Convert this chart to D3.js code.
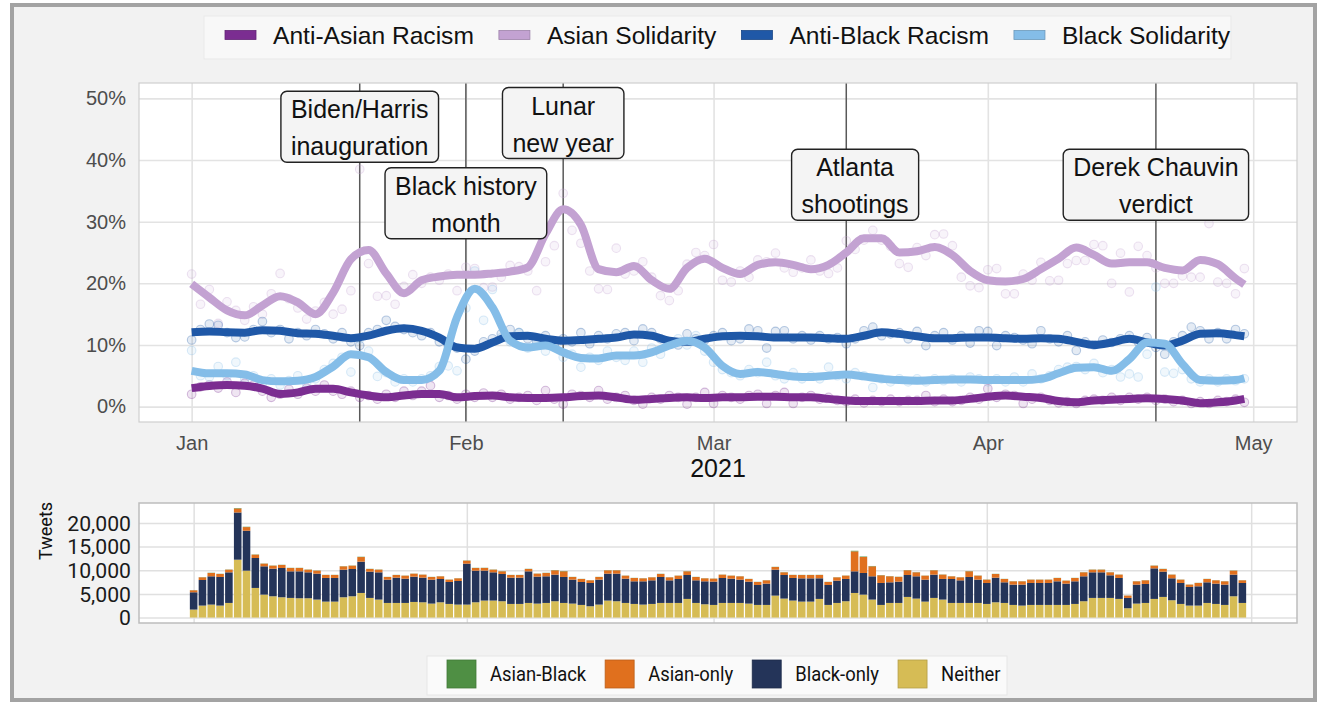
<!DOCTYPE html>
<html>
<head>
<meta charset="utf-8">
<script src="https://cdn.jsdelivr.net/npm/d3@7"></script>
<style>
  body { margin: 0; background: #fff; }
  svg { display: block; }
</style>
</head>
<body>
<svg id="chart" width="1325" height="711"></svg>
<script>
// ---- data ----
var seriesNames = ["Anti-Asian Racism", "Asian Solidarity", "Anti-Black Racism", "Black Solidarity"];
var seriesColors = ["#7b2d91", "#c3a2d2", "#1f58a7", "#84bde8"];

// smoothed share (%) every 2nd day from Jan 1, last value = Apr 30
var antiAsianLine = [3.0,3.35,3.5,3.4,2.9,2.05,2.3,2.9,2.9,2.3,1.8,1.5,1.8,2.05,2.05,1.5,1.7,1.8,1.5,1.4,
  1.4,1.5,1.7,1.8,1.5,1.1,1.25,1.4,1.5,1.4,1.5,1.5,1.6,1.6,1.5,1.5,1.25,1.0,0.9,0.9,
  0.9,0.9,1.0,1.0,1.25,1.6,1.8,1.6,1.4,0.9,0.7,1.0,1.1,1.25,1.35,1.25,1.0,0.55,0.7,1.0,1.25];
var asianSolLine = [19.9,17.7,15.6,14.8,16.4,17.9,16.9,15.0,18.5,23.9,25.4,21.6,18.4,20.5,21.1,21.4,21.4,21.6,21.9,22.6,
  28.0,32.0,29.5,22.3,21.8,22.8,20.5,19.1,22.5,24.0,22.5,21.5,23.0,23.4,23.0,22.3,23.0,25.0,27.3,27.3,
  25.0,25.2,25.9,24.6,22.0,20.5,20.3,20.7,22.3,24.0,25.8,24.6,23.2,23.4,23.4,22.5,22.1,23.8,23.1,20.8,19.8];
var antiBlackLine = [12.05,12.2,12.05,12.0,12.4,12.3,11.9,11.8,11.5,11.1,11.5,12.3,12.7,12.3,11.2,9.6,9.4,10.4,11.4,11.5,
  11.0,10.7,10.8,11.0,11.2,11.7,11.5,10.7,10.5,11.0,11.4,11.5,11.4,11.2,11.2,11.2,11.1,11.0,11.5,12.05,
  11.8,11.4,11.1,11.1,11.2,11.2,11.1,11.0,11.1,11.0,10.5,10.0,10.4,11.0,10.4,9.9,10.7,11.8,11.9,11.6,11.4];
var blackSolLine = [5.8,5.4,5.4,5.2,4.3,4.1,4.2,4.8,6.5,8.5,8.0,5.6,4.3,4.3,5.8,14.5,19.1,16.1,10.7,9.6,
  9.9,8.8,7.9,7.8,8.3,8.3,8.8,9.9,10.7,9.6,6.6,5.3,5.6,5.3,4.9,4.8,5.0,5.2,4.9,4.5,
  4.3,4.2,4.3,4.4,4.4,4.3,4.3,4.3,4.5,5.4,6.3,6.4,5.8,7.7,10.4,10.2,6.9,4.3,4.2,4.3,4.6];

// daily share (%) Jan 1 - Apr 30
var antiAsianPts = [2.0,3.2,3.5,3.0,4.0,2.3,3.8,3.5,2.5,1.5,2.0,2.8,2.0,3.0,2.5,3.5,2.5,2.0,2.5,1.5,
  1.8,1.2,2.0,1.5,2.5,1.8,2.5,3.4,1.5,1.8,1.2,2.0,1.5,2.2,1.5,2.0,1.2,1.5,1.8,1.0,
  2.6,1.2,0.4,2.0,1.8,1.5,2.6,1.2,1.5,1.8,1.0,0.4,1.5,1.2,1.8,1.5,0.4,1.5,2.3,0.5,
  1.8,1.5,1.2,1.8,2.0,0.5,1.8,2.3,0.5,1.5,1.8,1.2,1.5,1.0,0.8,1.2,0.6,1.0,0.8,1.2,
  0.8,1.0,1.0,1.8,0.8,1.2,0.8,1.0,1.5,1.2,2.9,1.5,2.0,1.8,0.5,1.2,1.5,1.0,0.6,0.8,
  0.5,1.0,1.2,1.0,1.5,1.0,1.5,1.2,1.5,1.0,1.2,0.8,1.0,0.5,0.8,0.5,1.0,0.8,1.2,0.7];
var asianSolPts = [21.5,16.6,19.0,13.5,17.0,15.6,14.0,16.2,15.0,18.3,21.6,17.5,16.0,14.2,15.5,16.9,15.0,15.8,18.8,38.5,
  23.2,17.9,18.0,16.6,19.5,21.4,20.0,21.0,20.5,21.5,18.8,22.6,22.4,19.3,19.4,21.0,22.9,22.7,22.0,18.8,
  23.5,26.1,34.6,28.6,26.5,22.0,19.1,19.0,25.7,21.5,22.0,23.5,21.0,18.0,17.2,18.8,23.1,25.0,24.5,26.3,
  20.5,20.2,22.0,21.0,23.8,23.5,24.9,22.5,21.8,22.5,23.8,22.0,21.6,22.5,26.9,25.5,27.0,28.6,27.0,26.0,
  23.2,22.6,25.8,24.5,27.9,28.0,26.1,21.0,19.6,19.3,22.2,22.4,18.3,18.3,21.5,20.5,23.4,20.4,20.5,23.2,
  23.7,23.7,26.3,26.1,20.0,24.9,18.6,26.0,24.5,22.5,20.0,20.0,21.2,21.0,21.0,29.7,20.2,20.0,18.3,22.4];
var antiBlackPts = [10.8,12.5,13.4,13.2,12.0,11.2,11.3,12.5,13.8,12.0,12.5,11.0,12.0,11.5,12.5,11.8,11.0,12.0,10.5,9.9,
  12.0,12.5,14.0,13.0,12.5,12.0,11.5,12.0,10.5,10.0,9.5,7.7,9.0,10.5,11.0,11.8,12.5,12.0,11.0,10.5,
  11.5,10.0,11.0,10.5,12.0,10.2,11.5,11.0,11.8,12.0,10.7,12.6,12.0,11.0,10.5,10.0,11.8,11.0,10.8,11.5,
  12.0,10.7,11.0,12.6,12.3,9.5,12.2,12.3,11.0,11.5,10.8,11.5,11.0,11.2,10.2,11.0,12.3,12.9,11.5,11.8,
  12.0,11.0,12.2,9.9,11.5,12.0,10.8,11.5,10.3,12.3,12.2,9.9,11.5,11.2,10.8,10.2,12.3,11.0,10.5,11.5,
  9.1,10.5,10.0,10.8,10.4,11.0,11.5,10.5,11.2,9.6,8.5,10.5,11.5,12.9,12.3,11.0,12.0,11.0,12.5,11.8];
var blackSolPts = [9.1,5.0,4.8,6.5,5.0,7.2,4.5,5.0,3.8,4.5,3.5,4.2,5.0,3.8,4.5,6.0,7.0,8.0,5.6,11.0,
  9.0,4.9,5.5,4.0,4.5,4.0,4.5,5.0,6.5,6.6,5.8,16.0,22.0,14.0,19.0,11.2,10.5,12.0,9.5,10.0,
  9.0,10.5,8.0,8.5,6.4,8.0,7.5,9.0,8.0,7.5,9.0,7.2,9.5,8.5,10.5,11.0,10.0,11.5,9.0,7.2,
  6.0,5.5,5.0,6.0,5.5,7.2,5.0,4.5,5.5,4.5,5.0,4.5,6.4,5.0,4.5,5.5,5.0,3.1,4.5,4.0,
  4.5,4.0,4.5,4.0,4.5,4.2,4.5,4.0,4.8,4.5,4.0,4.5,4.0,4.8,4.0,5.3,4.5,5.0,6.0,6.4,
  6.5,6.0,7.0,5.5,6.0,4.8,5.3,4.8,8.5,19.4,5.6,5.4,6.0,4.5,4.0,4.5,4.0,4.5,4.2,4.5];

// events
var eventNames = [["Biden/Harris", "inauguration"], ["Black history", "month"], ["Lunar", "new year"],
                  ["Atlanta", "shootings"], ["Derek Chauvin", "verdict"]];
var eventDays = [19, 31, 42, 74, 109];
var eventLabelDays = [19, 31, 42, 75, 109];
var eventLabelY = [45.4, 33.0, 46.0, 36.0, 36.0];

// daily tweet counts by type
var barKeys = ["Neither", "Black-only", "Asian-only", "Asian-Black"];
var barColors = ["#d6bc55", "#243459", "#e0701e", "#4f8f44"];
var legendOrder = ["Asian-Black", "Asian-only", "Black-only", "Neither"];
var neither = [1690,2530,2740,2530,3090,12230,9910,6260,4850,4500,
  4290,4150,4080,4080,3800,3370,3370,4290,4500,5200,
  4150,3800,3090,3090,3090,3300,3230,2950,3230,2880,
  2740,2740,3230,3590,3590,3450,2880,2880,3090,2950,
  3090,3450,3090,2950,2670,2390,2740,3590,3450,3090,
  2880,2740,2880,3090,3090,3090,3940,3090,2810,2670,
  3090,3090,3090,2950,2670,2670,4640,4010,3590,3370,
  3370,3940,2670,3090,3450,5200,4850,3800,2670,3090,
  3090,4360,4010,3370,4150,3800,3090,3090,3090,3090,
  2880,3230,3090,2670,2530,2670,2670,2670,2670,2670,
  2880,3450,4150,4150,4150,3940,1970,2950,3090,3940,
  4360,3660,2880,2530,2530,3090,2880,2670,4500,3090];
var blackOnly = [3650,5410,5980,6050,6470,9980,8440,6330,5980,5830,
  6190,5620,5690,5480,5480,5000,5000,5830,5760,6610,
  5550,5760,4920,5340,5130,5340,5200,5060,4920,4640,
  4990,8650,6680,6330,5970,5760,5550,5550,6680,5700,
  5630,5620,5490,5060,4850,4920,5270,5690,5830,5130,
  4780,4920,4990,5490,4780,5060,5060,4780,4850,4920,
  5270,5130,4920,4640,4220,4500,5480,4990,4780,4920,
  4920,4360,4220,4710,4710,4570,4570,4920,4640,4360,
  4500,4640,4710,4640,4920,4360,5060,4780,5490,4920,
  4430,5200,4360,4290,4430,4640,4640,4640,4990,4500,
  4780,5270,5410,5410,4780,4430,2180,4010,4010,6460,
  5340,4640,4430,3940,4080,4360,4290,4290,4570,4220];
var asianOnly = [420,560,700,630,560,840,770,700,560,630,
  630,700,700,560,630,630,630,700,700,980,
  560,560,560,560,630,630,630,560,560,490,
  560,630,560,560,560,560,560,560,490,630,
  700,910,1200,560,630,560,560,700,700,630,
  700,630,630,630,630,700,770,700,630,630,
  700,630,700,560,630,700,560,560,630,700,
  700,700,630,700,700,4220,3380,2110,1620,1270,
  1000,990,840,840,910,910,560,630,1200,840,
  700,770,700,700,700,700,700,700,700,630,
  700,840,560,560,630,700,490,700,770,560,
  560,770,700,490,700,700,700,700,840,560];
var asianBlack = [30,40,50,40,40,90,70,50,40,40,
  40,40,40,40,40,30,30,40,40,60,
  40,40,30,30,30,30,30,30,30,30,
  30,50,40,40,40,40,30,30,40,30,
  40,50,60,30,30,30,30,40,40,30,
  30,30,30,40,30,30,40,30,30,30,
  30,30,30,30,30,30,40,40,30,30,
  30,30,30,30,30,120,100,70,50,40,
  40,40,40,30,40,40,30,30,50,40,
  30,40,30,30,30,30,30,30,30,30,
  30,40,40,40,30,30,20,30,30,40,
  40,30,30,30,30,30,30,30,40,30];

// ---- helpers ----
var DAY = 86400000, START = Date.UTC(2021, 0, 1);
function day(d) { return new Date(START + d * DAY); }
var lineDays = d3.range(0, 120, 2).concat([119]);
var lineSeries = [antiAsianLine, asianSolLine, antiBlackLine, blackSolLine];
var ptSeries = [antiAsianPts, asianSolPts, antiBlackPts, blackSolPts];

var svg = d3.select("#chart");
var SANS = "'Liberation Sans', Arial, sans-serif";
var COND = "Roboto, 'Liberation Sans', sans-serif";

function condense(sel, f) {
  sel.each(function() {
    var L = this.getComputedTextLength();
    d3.select(this).attr("textLength", L * f).attr("lengthAdjust", "spacingAndGlyphs");
  });
}

// outer frame
svg.append("rect").attr("x", 12).attr("y", 5).attr("width", 1303).attr("height", 695)
  .attr("fill", "#f2f2f2").attr("stroke", "#a3a3a3").attr("stroke-width", 4);

// ---- top legend ----
var legTop = svg.append("g");
legTop.append("rect").attr("x", 204).attr("y", 16).attr("width", 1027).attr("height", 43)
  .attr("fill", "#f8f8f8").attr("stroke", "#e9e9e9");
var lx = 225;
seriesNames.forEach(function(name, i) {
  legTop.append("rect").attr("x", lx).attr("y", 30.5).attr("width", 31).attr("height", 9)
    .attr("fill", seriesColors[i]).attr("stroke", d3.color(seriesColors[i]).darker(0.6)).attr("stroke-width", 0.8);
  var t = legTop.append("text").attr("x", lx + 48).attr("y", 35).attr("dy", "0.36em")
    .attr("font-family", SANS).attr("font-size", 24.6).attr("fill", "#111").text(name);
  lx += 48 + t.node().getComputedTextLength() + 25;
});

// ---- top panel ----
var T = { l: 139, r: 1297, t: 83, b: 422 };
var xTop = d3.scaleUtc().domain([day(-5.95), day(124.95)]).range([T.l, T.r]);
var yTop = d3.scaleLinear().domain([-2.5, 52.5]).range([T.b, T.t]);
var months = d3.utcMonth.range(day(0), day(121));

var upper = svg.append("g");
upper.append("rect").attr("x", T.l).attr("y", T.t).attr("width", T.r - T.l).attr("height", T.b - T.t)
  .attr("fill", "#fff");

upper.append("g").attr("transform", "translate(" + T.l + ",0)")
  .call(d3.axisLeft(yTop).tickValues([0, 10, 20, 30, 40, 50]).tickSize(-(T.r - T.l)).tickFormat(""))
  .call(function(g) { g.select(".domain").remove(); g.selectAll("line").attr("stroke", "#e3e3e3").attr("stroke-width", 1.6); });
upper.append("g").attr("transform", "translate(0," + T.b + ")")
  .call(d3.axisBottom(xTop).tickValues(months).tickSize(-(T.b - T.t)).tickFormat(""))
  .call(function(g) { g.select(".domain").remove(); g.selectAll("line").attr("stroke", "#e3e3e3").attr("stroke-width", 1.6); });

// event lines
upper.selectAll("line.event").data(eventDays).enter().append("line").attr("class", "event")
  .attr("x1", function(d) { return xTop(day(d)); }).attr("x2", function(d) { return xTop(day(d)); })
  .attr("y1", T.t).attr("y2", T.b).attr("stroke", "#595959").attr("stroke-width", 1.5);

upper.append("rect").attr("x", T.l).attr("y", T.t).attr("width", T.r - T.l).attr("height", T.b - T.t)
  .attr("fill", "none").attr("stroke", "#cfcfcf").attr("stroke-width", 1.2);

// points
ptSeries.forEach(function(vals, i) {
  upper.append("g").selectAll("circle").data(vals).enter().append("circle")
    .attr("cx", function(d, j) { return xTop(day(j)); })
    .attr("cy", function(d) { return yTop(d); })
    .attr("r", 4.3)
    .attr("fill", seriesColors[i]).attr("fill-opacity", 0.12)
    .attr("stroke", seriesColors[i]).attr("stroke-opacity", 0.3).attr("stroke-width", 1.1);
});

// smoothed lines
var line = d3.line()
  .x(function(d, j) { return xTop(day(lineDays[j])); })
  .y(function(d) { return yTop(d); })
  .curve(d3.curveMonotoneX);
lineSeries.forEach(function(vals, i) {
  upper.append("path").datum(vals).attr("d", line)
    .attr("fill", "none").attr("stroke", seriesColors[i]).attr("stroke-width", 8)
    .attr("stroke-linejoin", "round").attr("stroke-linecap", "butt");
});

// axis labels
upper.append("g").attr("transform", "translate(" + (T.l - 8) + ",0)")
  .call(d3.axisLeft(yTop).tickValues([0, 10, 20, 30, 40, 50]).tickSize(0).tickPadding(5)
    .tickFormat(function(d) { return d + "%"; }))
  .call(function(g) {
    g.select(".domain").remove();
    g.selectAll("text").attr("font-family", SANS).attr("font-size", 20).attr("fill", "#4d4d4d");
  });
upper.append("g").attr("transform", "translate(0," + (T.b + 6) + ")")
  .call(d3.axisBottom(xTop).tickValues(months).tickSize(0).tickPadding(8).tickFormat(d3.utcFormat("%b")))
  .call(function(g) {
    g.select(".domain").remove();
    g.selectAll("text").attr("font-family", SANS).attr("font-size", 20).attr("fill", "#4d4d4d");
  });
upper.append("text").attr("x", (T.l + T.r) / 2).attr("y", 477).attr("text-anchor", "middle")
  .attr("font-family", SANS).attr("font-size", 25).attr("fill", "#111").text("2021");

// event labels
eventNames.forEach(function(lines, i) {
  var cx = xTop(day(eventLabelDays[i])), cy = yTop(eventLabelY[i]);
  var g = upper.append("g");
  var box = g.append("rect");
  var w = 0;
  lines.forEach(function(s, k) {
    var t = g.append("text").attr("x", cx).attr("y", cy - 8.5 + k * 37).attr("text-anchor", "middle")
      .attr("font-family", SANS).attr("font-size", 25).attr("fill", "#111").text(s);
    w = Math.max(w, t.node().getComputedTextLength());
  });
  box.attr("x", cx - w / 2 - 10).attr("y", cy - 35.5).attr("width", w + 20).attr("height", 71)
    .attr("rx", 6).attr("fill", "#f4f4f4").attr("stroke", "#222").attr("stroke-width", 1.4);
});

// ---- bottom panel ----
var B = { l: 139, r: 1297, t: 503, b: 623 };
var xBot = d3.scaleUtc().domain([day(-6.2), day(125.2)]).range([B.l, B.r]);
var yBot = d3.scaleLinear().domain([-1150, 24210]).range([B.b, B.t]);

var bot = svg.append("g");
bot.append("rect").attr("x", B.l).attr("y", B.t).attr("width", B.r - B.l).attr("height", B.b - B.t)
  .attr("fill", "#fff");
bot.append("g").attr("transform", "translate(" + B.l + ",0)")
  .call(d3.axisLeft(yBot).tickValues([0, 5000, 10000, 15000, 20000]).tickSize(-(B.r - B.l)).tickFormat(""))
  .call(function(g) { g.select(".domain").remove(); g.selectAll("line").attr("stroke", "#e0e0e0").attr("stroke-width", 1.5); });
bot.append("g").attr("transform", "translate(0," + B.b + ")")
  .call(d3.axisBottom(xBot).tickValues(months).tickSize(-(B.b - B.t)).tickFormat(""))
  .call(function(g) { g.select(".domain").remove(); g.selectAll("line").attr("stroke", "#e0e0e0").attr("stroke-width", 1.5); });

var rows = neither.map(function(v, i) {
  return { date: day(i), "Neither": v, "Black-only": blackOnly[i], "Asian-only": asianOnly[i], "Asian-Black": asianBlack[i] };
});
var stacked = d3.stack().keys(barKeys)(rows);
var bw = (xBot(day(1)) - xBot(day(0))) * 0.86;
bot.selectAll("g.layer").data(stacked).enter().append("g").attr("class", "layer")
  .attr("fill", function(d, i) { return barColors[i]; })
  .selectAll("rect").data(function(d) { return d; }).enter().append("rect")
  .attr("x", function(d) { return xBot(d.data.date) - bw / 2; })
  .attr("width", bw)
  .attr("y", function(d) { return yBot(d[1]); })
  .attr("height", function(d) { return Math.max(0, yBot(d[0]) - yBot(d[1])); });

bot.append("rect").attr("x", B.l).attr("y", B.t).attr("width", B.r - B.l).attr("height", B.b - B.t)
  .attr("fill", "none").attr("stroke", "#bdbdbd").attr("stroke-width", 1.5);

bot.append("g").attr("transform", "translate(" + (B.l - 8) + ",0)")
  .call(d3.axisLeft(yBot).tickValues([0, 5000, 10000, 15000, 20000]).tickSize(0).tickPadding(0)
    .tickFormat(d3.format(",")))
  .call(function(g) {
    g.select(".domain").remove();
    g.selectAll("text").attr("font-family", COND).attr("font-size", 20).attr("fill", "#1a1a1a")
      .attr("dy", "0.36em").call(condense, 1.06);
  });
bot.append("text").attr("transform", "translate(52,531) rotate(-90)").attr("text-anchor", "middle")
  .attr("font-family", COND).attr("font-size", 19).attr("fill", "#111").text("Tweets").call(condense, 0.95);

// bottom legend
var legBot = svg.append("g");
legBot.append("rect").attr("x", 427).attr("y", 656).attr("width", 580).attr("height", 39)
  .attr("fill", "#fafafa").attr("stroke", "#e6e6e6");
var bx = 447;
legendOrder.forEach(function(name) {
  var c = barColors[barKeys.indexOf(name)];
  legBot.append("rect").attr("x", bx).attr("y", 660).attr("width", 29).attr("height", 28)
    .attr("fill", c).attr("stroke", d3.color(c).darker(0.5)).attr("stroke-width", 0.8);
  var t = legBot.append("text").attr("x", bx + 43).attr("y", 674).attr("dy", "0.36em")
    .attr("font-family", COND).attr("font-size", 20).attr("fill", "#111").text(name).call(condense, 0.92);
  bx += 43 + (+t.attr("textLength")) + 19;
});
</script>
</body>
</html>
